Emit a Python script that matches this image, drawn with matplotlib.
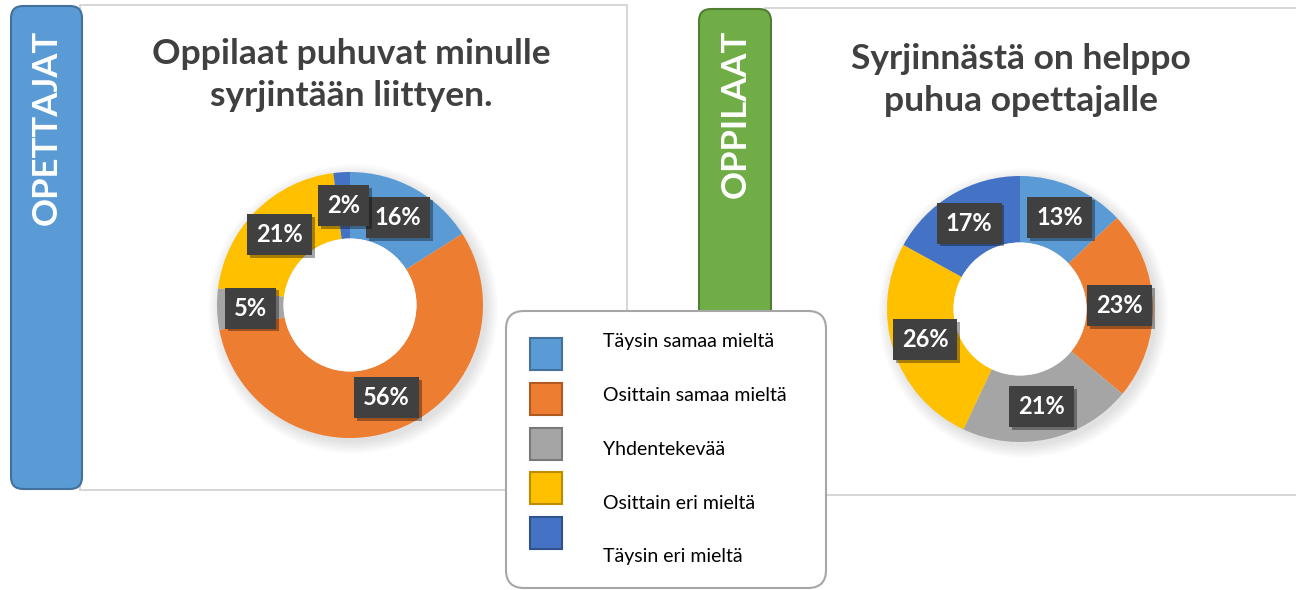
import numpy as np
import matplotlib
matplotlib.use("Agg")
import matplotlib.pyplot as plt
from matplotlib.patches import Rectangle, FancyBboxPatch, Circle
from matplotlib import patheffects

plt.rcParams['font.family'] = ['Lato', 'DejaVu Sans']

# data
categories = ['Täysin samaa mieltä', 'Osittain samaa mieltä', 'Yhdentekevää',
              'Osittain eri mieltä', 'Täysin eri mieltä']
teachers = [16, 56, 5, 21, 2]
students = [13, 23, 21, 26, 17]
colors = ['#5B9BD5', '#ED7D31', '#A5A5A5', '#FFC000', '#4472C4']
edges = ['#41719C', '#AE5A21', '#787878', '#BC8C00', '#2F528F']
title_left = 'Oppilaat puhuvat minulle\nsyrjintään liittyen.'
title_right = 'Syrjinnästä on helppo\npuhua opettajalle'
tab_left = 'OPETTAJAT'
tab_right = 'OPPILAAT'

W, H = 1296, 590
fig = plt.figure(figsize=(W / 100, H / 100), dpi=100)
fig.patch.set_facecolor('white')

# background layer in pixel coords
bg = fig.add_axes([0, 0, 1, 1], zorder=0)
bg.set_xlim(0, W)
bg.set_ylim(H, 0)
bg.axis('off')

bg.add_patch(Rectangle((80, 5), 547, 485, fc='white', ec='#D0D0D0', lw=1.2))
bg.add_patch(Rectangle((765, 8), 560, 487, fc='white', ec='#D0D0D0', lw=1.2))
bg.add_patch(FancyBboxPatch((11, 6), 71, 483, boxstyle='round,pad=0,rounding_size=12',
                            fc='#5B9BD5', ec='#41719C', lw=1.5))
bg.add_patch(FancyBboxPatch((699, 9), 72, 485, boxstyle='round,pad=0,rounding_size=12',
                            fc='#70AD47', ec='#507E32', lw=1.5))
bg.text(47, 30, tab_left, rotation=90, ha='center', va='top', color='white',
        fontsize=25, fontweight='bold')
bg.text(736, 30, tab_right, rotation=90, ha='center', va='top', color='white',
        fontsize=25, fontweight='bold')
bg.text(351, 75, title_left, ha='center', va='center', color='#404040',
        fontsize=25.5, fontweight='bold', linespacing=1.35)
bg.text(1021, 80, title_right, ha='center', va='center', color='#404040',
        fontsize=25.5, fontweight='bold', linespacing=1.35)


def donut(cx, cy, values):
    r_px, half = 133, 150
    ax = fig.add_axes([(cx - half) / W, 1 - (cy + half) / H, 2 * half / W, 2 * half / H], zorder=1)
    lim = half / r_px
    # soft shadow
    for k in range(10):
        ax.add_patch(Circle((0.025, -0.03), 1 + 0.01 * k, fc='black', alpha=0.012, ec='none', zorder=0))
    wedges, _ = ax.pie(values, colors=colors, startangle=90, counterclock=False, radius=1,
                       wedgeprops=dict(width=0.5, edgecolor='none'))
    for w in wedges:
        w.set_zorder(1)
    ax.add_patch(Circle((0, 0), 0.5, fc='white', ec='none', zorder=1))
    total = sum(values)
    cum = 0
    for v in values:
        mid = (cum + v / 2) / total * 2 * np.pi
        cum += v
        x, y = 0.75 * np.sin(mid), 0.75 * np.cos(mid)
        t = ax.text(x, y, f'{v}%', ha='center', va='center', color='white', fontsize=17,
                    fontweight='bold', zorder=3,
                    bbox=dict(boxstyle='square,pad=0.38', fc='#404040', ec='none'))
        t.get_bbox_patch().set_path_effects([patheffects.withSimplePatchShadow(
            offset=(2, -2), shadow_rgbFace='black', alpha=0.35)])
    ax.set_xlim(-lim, lim)
    ax.set_ylim(-lim, lim)
    ax.set_aspect('equal')
    ax.axis('off')


donut(350, 305, teachers)
donut(1020, 309, students)

# legend overlay
lg = fig.add_axes([0, 0, 1, 1], zorder=5)
lg.set_xlim(0, W)
lg.set_ylim(H, 0)
lg.axis('off')
lg.patch.set_alpha(0)
lg.add_patch(FancyBboxPatch((506, 311), 320, 277, boxstyle='round,pad=0,rounding_size=18',
                            fc='white', ec='#A6A6A6', lw=1.5))
for i, (lab, c, e) in enumerate(zip(categories, colors, edges)):
    top = 338 + 44.8 * i
    lg.add_patch(Rectangle((530, top), 32, 32, fc=c, ec=e, lw=1.5))
    lg.text(603, 342 + 53.7 * i, lab, ha='left', va='center', fontsize=14, color='black')

fig.savefig('out.png', dpi=100, facecolor='white')
